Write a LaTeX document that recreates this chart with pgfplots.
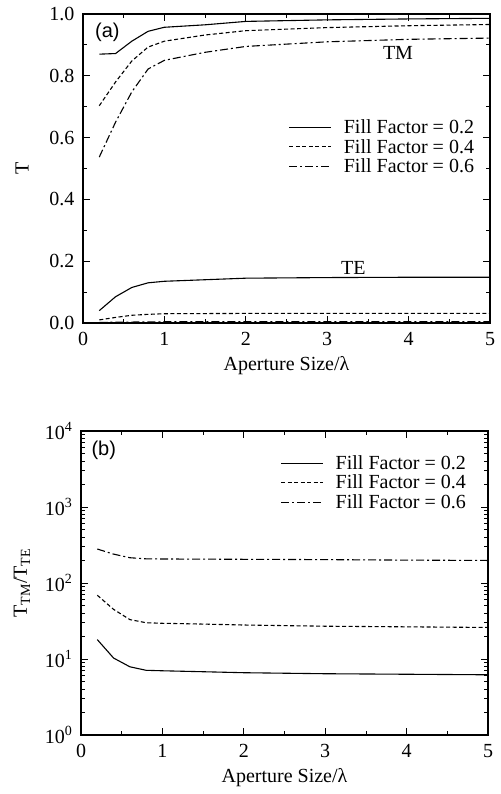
\documentclass[border=0pt]{standalone}
\usepackage{fontspec}
\setmainfont{Liberation Serif}
\newfontfamily\sansf{Liberation Sans}
\usepackage{pgfplots}
\pgfplotsset{compat=1.18}
\pgfplotsset{
  common/.style={
    scale only axis, width=407pt, anchor=south west,
    xmin=0, xmax=5, xtick={0,1,2,3,4,5}, minor x tick num=1,
    tick align=inside,
    major tick length=7pt, minor tick length=4pt,
    axis line style={line width=1.3pt},
    every tick/.style={line width=0.8pt, black},
    /pgf/number format/assume math mode=true,
    tick label style={font=\fontsize{20}{23}\selectfont},
    label style={font=\fontsize{20}{23}\selectfont},
    xlabel={Aperture Size/λ},
    xticklabel style={yshift=-6pt},
    yticklabel style={xshift=-5pt},
    xlabel style={yshift=-4pt},
    legend style={draw=none, fill=none, font=\fontsize{20}{23}\selectfont, row sep=0pt, column sep=10pt, legend cell align=left, inner sep=0pt, nodes={inner sep=2pt}},
    legend image code/.code={\draw[##1] (0pt,0pt) -- (42pt,0pt);},
  },
  s1/.style={black, line width=1.1pt},
  s2/.style={black, line width=1.1pt, dash pattern=on 4pt off 2.5pt},
  s3/.style={black, line width=1.1pt, dash pattern=on 8pt off 3pt on 2pt off 3pt},
}
\begin{document}
\begin{tikzpicture}[x=1pt,y=1pt]
\useasboundingbox (0,0) rectangle (500,794);
\begin{axis}[common, at={(83pt,471pt)}, height=309pt,
  ymin=0, ymax=1, ytick={0,0.2,0.4,0.6,0.8,1.0}, minor y tick num=1,
  yticklabel style={/pgf/number format/fixed, /pgf/number format/fixed zerofill, /pgf/number format/precision=1},
  ylabel={T}, ylabel style={yshift=14pt},
  legend style={at={(0.505,0.57)}, anchor=west},
]
\addplot[s1] coordinates {(0.2,0.870) (0.4,0.872) (0.6,0.912) (0.8,0.944) (1.0,0.957) (1.5,0.965) (2,0.976) (3,0.981) (4,0.984) (5,0.986)};
\addlegendentry{Fill Factor = 0.2}
\addplot[s2] coordinates {(0.2,0.703) (0.4,0.780) (0.6,0.848) (0.8,0.893) (1.0,0.912) (1.5,0.932) (2,0.946) (3,0.956) (4,0.962) (5,0.966)};
\addlegendentry{Fill Factor = 0.4}
\addplot[s3] coordinates {(0.2,0.537) (0.4,0.650) (0.6,0.748) (0.8,0.822) (1.0,0.850) (1.5,0.876) (2,0.895) (3,0.910) (4,0.918) (5,0.922)};
\addlegendentry{Fill Factor = 0.6}
\addplot[s1, forget plot] coordinates {(0.2,0.040) (0.4,0.085) (0.6,0.115) (0.8,0.130) (1.0,0.135) (1.5,0.140) (2,0.145) (3,0.147) (4,0.148) (5,0.148)};
\addplot[s2, forget plot] coordinates {(0.2,0.010) (0.4,0.018) (0.6,0.025) (0.8,0.028) (1.0,0.030) (2,0.031) (3,0.031) (4,0.031) (5,0.031)};
\addplot[s3, forget plot] coordinates {(0.2,0.002) (0.6,0.003) (1.0,0.004) (2,0.004) (3,0.004) (4,0.004) (5,0.004)};
\node[font=\fontsize{20}{23}\selectfont] at (axis cs:3.87,0.874) {TM};
\node[font=\fontsize{20}{23}\selectfont] at (axis cs:3.32,0.178) {TE};
\node[font=\sansf\fontsize{20}{23}\selectfont] at (axis cs:0.30,0.94) {(a)};
\end{axis}
\begin{axis}[common, at={(81pt,59pt)}, height=304pt,
  ymode=log, ymin=1, ymax=10000, ytick={1,10,100,1000,10000},
  yticklabels={10\textsuperscript{0},10\textsuperscript{1},10\textsuperscript{2},10\textsuperscript{3},10\textsuperscript{4}},
  ylabel={T\textsubscript{TM}/T\textsubscript{TE}}, ylabel style={yshift=8pt},
  legend style={at={(0.49,0.83)}, anchor=west},
]
\addplot[s1] coordinates {(0.2,18.0) (0.4,10.3) (0.6,7.9) (0.8,7.1) (1.0,7.0) (1.5,6.8) (2,6.6) (3,6.4) (4,6.3) (5,6.2)};
\addlegendentry{Fill Factor = 0.2}
\addplot[s2] coordinates {(0.2,69) (0.4,45) (0.6,33) (0.8,30) (1.0,29.5) (1.5,28.8) (2,28) (3,27) (4,26.5) (5,26)};
\addlegendentry{Fill Factor = 0.4}
\addplot[s3] coordinates {(0.2,280) (0.4,240) (0.6,215) (0.8,208) (1.0,207) (1.5,206) (2,205) (3,203) (4,200) (5,198)};
\addlegendentry{Fill Factor = 0.6}
\node[font=\sansf\fontsize{20}{23}\selectfont] at (axis cs:0.28,5600) {(b)};
\end{axis}
\end{tikzpicture}
\end{document}
